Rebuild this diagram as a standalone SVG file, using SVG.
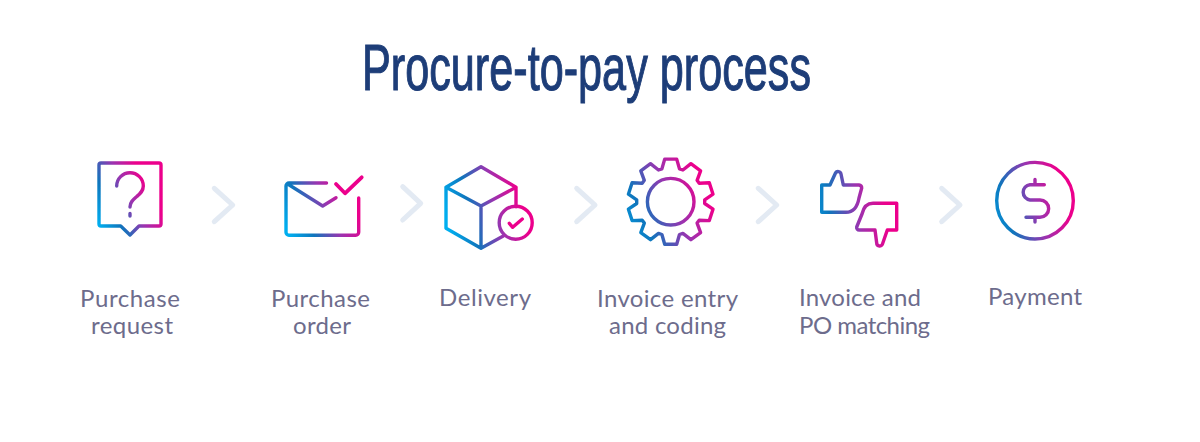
<svg xmlns="http://www.w3.org/2000/svg" width="1200" height="442" viewBox="0 0 1200 442">
<style>
.i{fill:none;stroke-width:3.4;stroke-linecap:round;stroke-linejoin:round}
.l{font-family:Lato,"Liberation Sans",sans-serif;font-size:24px;fill:#6d6c8c;text-anchor:middle}
.c{fill:none;stroke:#e3eaf3;stroke-width:5;stroke-linecap:round;stroke-linejoin:round}
.t{font-family:"Liberation Sans",Arial,sans-serif;font-size:64px;fill:#1d3d78;stroke:#1d3d78;stroke-width:1.100}
</style>
<defs>
<linearGradient id="g">
<stop offset="0" stop-color="#00aeef"/>
<stop offset="0.28" stop-color="#0f75bc"/>
<stop offset="0.58" stop-color="#9a34b0"/>
<stop offset="0.88" stop-color="#ec008c"/>
</linearGradient>
<linearGradient id="g1" href="#g" gradientUnits="userSpaceOnUse" x1="99" y1="226" x2="161" y2="195"/>
<linearGradient id="g2" href="#g" gradientUnits="userSpaceOnUse" x1="286" y1="228" x2="360" y2="195"/>
<linearGradient id="g3" href="#g" gradientUnits="userSpaceOnUse" x1="446" y1="215" x2="530" y2="195"/>
<linearGradient id="g4" href="#g" gradientUnits="userSpaceOnUse" x1="612" y1="225" x2="715" y2="180"/>
<linearGradient id="g5" href="#g" gradientUnits="userSpaceOnUse" x1="803" y1="215" x2="897" y2="205"/>
<linearGradient id="g6" href="#g" gradientUnits="userSpaceOnUse" x1="980" y1="215" x2="1075" y2="190"/>
</defs>
<rect width="1200" height="442" fill="#fff"/>
<text class="t" x="362" y="89.500" textLength="449" lengthAdjust="spacingAndGlyphs">Procure-to-pay process</text>
<g id="connectors">
<path class="c" d="M214.300 188.300 232.700 205 214.300 221.700"/>
<path class="c" d="M402.700 186.700 420.700 203.300 402.700 220"/>
<path class="c" d="M576.700 188.300 595 205 576.700 221.700"/>
<path class="c" d="M758.300 188.300 776.700 205 758.300 221.700"/>
<path class="c" d="M941.700 188.300 960 205 941.700 221.700"/>
</g>
<g id="node-purchase-request">
<path class="i" stroke="url(#g1)" d="M101 163H159a2 2 0 0 1 2 2V224a2 2 0 0 1-2 2H139L130 235 120.700 226H101a2 2 0 0 1-2-2V165a2 2 0 0 1 2-2ZM116.700 186a13.300 13.300 0 0 1 26.600 0c0 5-3 7.500-6.500 10.500S130 202 130 207M130 213.500v2.500"/>
<text class="l" x="130" y="307" textLength="100">Purchase</text>
<text class="l" x="132" y="334" textLength="82">request</text>
</g>
<g id="node-purchase-order">
<path class="i" stroke="url(#g2)" d="M326.500 183H289a3 3 0 0 0-3 3V232.300a3 3 0 0 0 3 3H355.700a3 3 0 0 0 3-3V198M288.500 184.500 322.700 206 336 197.700"/>
<path class="i" stroke="#ec008c" style="stroke-width:3.800" d="M336 184 345 193.300 361.700 177.300"/>
<text class="l" x="320.500" y="307" textLength="99">Purchase</text>
<text class="l" x="322" y="334" textLength="58">order</text>
</g>
<g id="node-delivery">
<path class="i" stroke="url(#g3)" d="M503.300 236 481 248.300 446 228.300V187.300L481 166.700 516 187.300V206.700M446 187.300 481 206 516 187.300M481 206V248.300"/>
<circle class="i" stroke="url(#g3)" cx="515.700" cy="222.700" r="16.500"/>
<path class="i" stroke="#ec008c" d="M509.300 223.300 512.700 227.300 522.300 219"/>
<text class="l" x="485" y="306" textLength="92">Delivery</text>
</g>
<g id="node-invoice-entry">
<path class="i" stroke="url(#g4)" d="M664.700 159.100H676.700L679.500 168.900 682.900 170 690.900 163.700 700.600 170.800 697.100 180.300 699.200 183.200 709.300 182.800 713 194.200 704.700 199.900V203.500L713 209.200 709.300 220.600 699.200 220.200 697.100 223.100 700.600 232.600 690.900 239.700 682.900 233.400 679.500 234.500 676.700 244.300H664.700L661.900 234.500 658.500 233.400 650.500 239.700 640.800 232.600 644.300 223.100 642.200 220.200 632.100 220.600 628.400 209.200 636.700 203.500V199.900L628.400 194.200 632.100 182.800 642.200 183.200 644.300 180.300 640.800 170.800 650.500 163.700 658.500 170 661.900 168.900Z"/>
<circle class="i" stroke="url(#g4)" cx="670.700" cy="201.700" r="23.300"/>
<text class="l" x="667.500" y="307" textLength="141">Invoice entry</text>
<text class="l" x="667.500" y="334" textLength="117">and coding</text>
</g>
<g id="node-po-matching">
<path class="i" stroke="url(#g5)" d="M821.700 185H830L835.500 173a3 3 0 0 1 5.500 1L843.300 185H859a3 3 0 0 1 2.700 3L859 198Q856.500 212.300 846 212.300H821.700ZM896.700 203.300H873Q864.500 203.300 862 214L856.700 227a2.500 2.500 0 0 0 2.500 3H875L876.700 243a3 3 0 0 0 5.600 1.500L887.300 230H896.700Z"/>
<text class="l" x="860" y="306" textLength="122">Invoice and</text>
<text class="l" x="864.500" y="334" textLength="131">PO matching</text>
</g>
<g id="node-payment">
<circle class="i" stroke="url(#g6)" cx="1035" cy="200.700" r="38.300"/>
<path class="i" stroke="url(#g6)" d="M1044.300 184.700H1030a7.700 7.700 0 0 0 0 15.300H1040a8.650 8.650 0 0 1 0 17.300H1026M1035 179.500V184.700M1035 217.300V222"/>
<text class="l" x="1035" y="305" textLength="94">Payment</text>
</g>
</svg>
